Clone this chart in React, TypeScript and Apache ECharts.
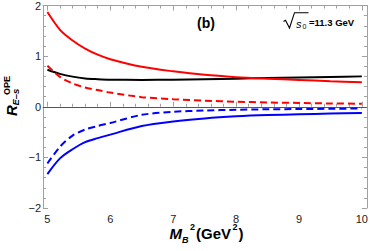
import React, { useEffect, useRef } from "react";
import * as echarts from "echarts";

const mb2 = [5, 5.2, 5.4, 5.6, 5.8, 6, 6.5, 7, 7.5, 8, 8.5, 9, 9.5, 10];
const redSolid = [1.87, 1.52, 1.31, 1.15, 1.03, 0.94, 0.79, 0.7, 0.63, 0.585, 0.555, 0.53, 0.505, 0.485];
const redDashed = [0.81, 0.59, 0.46, 0.38, 0.33, 0.28, 0.19, 0.15, 0.12, 0.1, 0.085, 0.075, 0.065, 0.06];
const blackSolid = [0.73, 0.65, 0.595, 0.56, 0.545, 0.535, 0.53, 0.535, 0.545, 0.555, 0.57, 0.58, 0.59, 0.6];
const blueDashed = [-1.12, -0.79, -0.57, -0.45, -0.38, -0.32, -0.16, -0.1, -0.075, -0.06, -0.05, -0.045, -0.04, -0.035];
const blueSolid = [-1.33, -1.02, -0.84, -0.7, -0.62, -0.55, -0.38, -0.29, -0.23, -0.19, -0.165, -0.15, -0.135, -0.125];

const xMajor = [5, 6, 7, 8, 9, 10];
const xMinor = [5.2, 5.4, 5.6, 5.8, 6.2, 6.4, 6.6, 6.8, 7.2, 7.4, 7.6, 7.8, 8.2, 8.4, 8.6, 8.8, 9.2, 9.4, 9.6, 9.8];

const FONT = "'Liberation Sans', Arial, sans-serif";
const FRAME = "#a0a0a0";

const pairs = (ys: number[]) => mb2.map((x, i) => [x, ys[i]]);

export default function App() {
  const ref = useRef<HTMLDivElement>(null);
  useEffect(() => {
    if (!ref.current) return;
    const chart = echarts.init(ref.current, null, { renderer: "svg" });
    const baseX = {
      type: "value" as const,
      min: 4.93,
      max: 10.08,
      splitLine: { show: false },
    };
    const lineSeries = (name: string, ys: number[], color: string, dashed: boolean) => ({
      name,
      type: "line",
      data: pairs(ys),
      symbol: "none",
      smooth: 0.3,
      xAxisIndex: 0,
      yAxisIndex: 0,
      lineStyle: { color, width: 2, type: dashed ? [7, 4] : "solid" },
      z: 3,
    });
    const txt = (x: number, y: number, text: string, font: string) => ({
      type: "text",
      x,
      y,
      style: { text, font, fill: "#000", verticalAlign: "middle" },
    });
    const titleRich = {
      m: { font: `italic bold 15px ${FONT}`, lineHeight: 22, verticalAlign: "middle" },
      a: { font: `bold 15px ${FONT}`, lineHeight: 22, verticalAlign: "middle" },
      b: { font: `italic bold 9px ${FONT}`, lineHeight: 14, verticalAlign: "bottom" },
      s: { font: `bold 9px ${FONT}`, lineHeight: 8, verticalAlign: "top", padding: [0, 1, 0, 1.5] },
    };
    chart.setOption({
      animation: false,
      grid: { left: 43, right: 1, top: 5, bottom: 43 },
      xAxis: [
        {
          ...baseX,
          position: "bottom",
          axisLine: { show: true, lineStyle: { color: FRAME, width: 1 } },
          axisTick: { show: true, inside: true, length: 5, customValues: xMajor, lineStyle: { color: FRAME } },
          axisLabel: {
            show: true,
            customValues: xMajor,
            margin: 5,
            fontSize: 11,
            color: "#222",
            fontFamily: FONT,
            formatter: (v: number) => String(v),
          },
        },
        {
          ...baseX,
          position: "bottom",
          axisLine: { show: false },
          axisTick: { show: true, inside: true, length: 3, customValues: xMinor, lineStyle: { color: FRAME } },
          axisLabel: { show: false },
        },
        {
          ...baseX,
          position: "top",
          axisLine: { show: true, lineStyle: { color: FRAME, width: 1 } },
          axisTick: { show: true, inside: true, length: 5, customValues: xMajor, lineStyle: { color: FRAME } },
          axisLabel: { show: false },
        },
        {
          ...baseX,
          position: "top",
          axisLine: { show: false },
          axisTick: { show: true, inside: true, length: 3, customValues: xMinor, lineStyle: { color: FRAME } },
          axisLabel: { show: false },
        },
      ],
      yAxis: [
        {
          type: "value",
          min: -2,
          max: 2,
          interval: 1,
          position: "left",
          splitLine: { show: false },
          axisLine: { show: true, lineStyle: { color: FRAME, width: 1 } },
          axisTick: { show: true, inside: true, length: 5, lineStyle: { color: FRAME } },
          minorTick: { show: true, splitNumber: 5, length: 3, lineStyle: { color: FRAME } },
          axisLabel: {
            margin: 2,
            fontSize: 11,
            color: "#222",
            fontFamily: FONT,
            formatter: (v: number) => (v < 0 ? "\u2212" + Math.abs(v) : String(v)),
          },
        },
        {
          type: "value",
          min: -2,
          max: 2,
          interval: 1,
          position: "right",
          splitLine: { show: false },
          axisLine: { show: true, lineStyle: { color: FRAME, width: 1 } },
          axisTick: { show: true, inside: true, length: 5, lineStyle: { color: FRAME } },
          minorTick: { show: true, splitNumber: 5, length: 3, lineStyle: { color: FRAME } },
          axisLabel: { show: false },
        },
      ],
      series: [
        {
          ...lineSeries("black", blackSolid, "#000000", false),
          markLine: {
            silent: true,
            symbol: ["none", "none"],
            label: { show: false },
            lineStyle: { color: "#555", width: 1.2, type: "solid" },
            data: [{ yAxis: 0 }],
            z: 2,
          },
        },
        lineSeries("redSolid", redSolid, "#ff0000", false),
        lineSeries("redDashed", redDashed, "#ff0000", true),
        lineSeries("blueDashed", blueDashed, "#0000ff", true),
        lineSeries("blueSolid", blueSolid, "#0000ff", false),
      ],
      graphic: [
        {
          type: "text",
          x: 206,
          y: 22.5,
          style: {
            text: "(b)",
            font: `bold 14px ${FONT}`,
            fill: "#000",
            align: "center",
            verticalAlign: "middle",
          },
        },
        {
          type: "polyline",
          shape: { points: [[283.5, 21.5], [285.5, 20.3], [289.5, 28], [294.5, 12.7], [308.5, 12.7]] },
          style: { stroke: "#000", lineWidth: 1.1, fill: null },
        },
        txt(296, 23.5, "s", `italic 11px ${FONT}`),
        txt(302.5, 26, "0", `7px ${FONT}`),
        txt(309, 22.5, "=11.3 GeV", `bold 9.5px ${FONT}`),
        // x axis title
        {
          type: "text",
          x: 169.5,
          y: 233,
          style: { text: "{m|M}{b|B}{s|2}", verticalAlign: "middle", fill: "#000", rich: titleRich },
        },
        {
          type: "text",
          x: 196,
          y: 233,
          style: { text: "{a|(GeV}{s|2}{a|)}", verticalAlign: "middle", fill: "#000", rich: titleRich },
        },
        // y axis title (rotated)
        {
          type: "group",
          x: 11.5,
          y: 116,
          rotation: Math.PI / 2,
          children: [
            txt(0, 0, "R", `italic bold 15px ${FONT}`),
            txt(10.5, 3.5, "E\u2013s", `italic bold 9.5px ${FONT}`),
            txt(21, -4.5, "OPE", `bold 9px ${FONT}`),
          ],
        },
      ],
    });
    return () => chart.dispose();
  }, []);
  return (
    <div
      ref={ref}
      style={{ position: "absolute", left: 0, top: 0, width: 371, height: 251, background: "#fff" }}
    />
  );
}
